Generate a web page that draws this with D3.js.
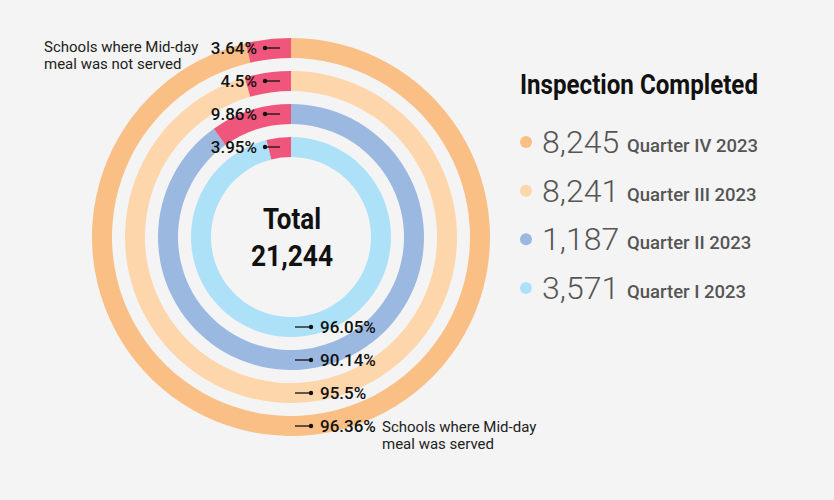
<!DOCTYPE html>
<html>
<head>
<meta charset="utf-8">
<script src="https://cdn.jsdelivr.net/npm/d3@7"></script>
<style>
  body { margin: 0; background: #f4f4f4; }
  svg { display: block; font-family: Roboto, "Noto Sans", sans-serif; }
</style>
</head>
<body>
<script>
// rings from outside to inside
var quarters = ["Quarter IV 2023", "Quarter III 2023", "Quarter II 2023", "Quarter I 2023"]
var inspections = [8245, 8241, 1187, 3571]
var servedPct = [96.36, 95.5, 90.14, 96.05]
var notServedPct = [3.64, 4.5, 9.86, 3.95]
var ringColors = ["#f9bf85", "#fdd6ac", "#9bb8e1", "#ade1f7"]
var notServedColor = "#f0567b"
var total = 21244

var width = 834, height = 500
var cx = 291, cy = 237

var svg = d3.select("body").append("svg")
  .attr("width", width)
  .attr("height", height)

svg.append("rect").attr("width", width).attr("height", height).attr("fill", "#f4f4f4")

var g = svg.append("g").attr("transform", "translate(" + cx + "," + cy + ")")

// radius of each ring centre
var radius = d3.scalePoint()
  .domain(quarters)
  .range([189, 90])

var thick = 20

var pie = d3.pie().sort(null).value(function(d) { return d })

quarters.forEach(function(q, i) {
  var r = radius(q)
  var arc = d3.arc().innerRadius(r - thick / 2).outerRadius(r + thick / 2)
  var slices = pie([servedPct[i], notServedPct[i]])
  g.selectAll(".arc" + i)
    .data(slices)
    .enter()
    .append("path")
    .attr("d", arc)
    .attr("fill", function(d, j) { return j == 0 ? ringColors[i] : notServedColor })

  // not served label (top)
  var top = g.append("g").attr("transform", "translate(0," + (-r) + ")")
  top.append("line").attr("x1", -26).attr("x2", -11).attr("y1", 0).attr("y2", 0)
    .attr("stroke", "#111").attr("stroke-width", 1.3)
  top.append("circle").attr("cx", -26).attr("cy", 0).attr("r", 2.2).attr("fill", "#111")
  top.append("text").attr("x", -34).attr("y", 6)
    .attr("text-anchor", "end")
    .attr("font-size", 17).attr("font-weight", 500).attr("fill", "#111")
    .text(notServedPct[i] + "%")

  // served label (bottom)
  var bot = g.append("g").attr("transform", "translate(0," + r + ")")
  bot.append("line").attr("x1", 4).attr("x2", 20).attr("y1", 0).attr("y2", 0)
    .attr("stroke", "#111").attr("stroke-width", 1.3)
  bot.append("circle").attr("cx", 20).attr("cy", 0).attr("r", 2.2).attr("fill", "#111")
  bot.append("text").attr("x", 29).attr("y", 6)
    .attr("font-size", 17).attr("font-weight", 500).attr("fill", "#111")
    .text(servedPct[i] + "%")
})

// centre total
g.append("text").attr("x", 1).attr("y", -8).attr("text-anchor", "middle")
  .attr("font-size", 29).attr("font-weight", 700).attr("fill", "#111")
  .attr("textLength", 58).attr("lengthAdjust", "spacingAndGlyphs")
  .text("Total")
g.append("text").attr("x", 1).attr("y", 29).attr("text-anchor", "middle")
  .attr("font-size", 29).attr("font-weight", 700).attr("fill", "#111")
  .attr("textLength", 82).attr("lengthAdjust", "spacingAndGlyphs")
  .text(d3.format(",")(total))

// annotations
var annLeft = svg.append("text").attr("font-size", 15).attr("fill", "#222")
annLeft.append("tspan").attr("x", 44).attr("y", 52).text("Schools where Mid-day")
annLeft.append("tspan").attr("x", 44).attr("y", 69).text("meal was not served")

var annRight = svg.append("text").attr("font-size", 15).attr("fill", "#222")
annRight.append("tspan").attr("x", 382).attr("y", 432).text("Schools where Mid-day")
annRight.append("tspan").attr("x", 382).attr("y", 449).text("meal was served")

// legend
svg.append("text").attr("x", 520).attr("y", 94)
  .attr("font-size", 27).attr("font-weight", 700).attr("fill", "#111")
  .attr("textLength", 238).attr("lengthAdjust", "spacingAndGlyphs")
  .text("Inspection Completed")

var rowY = d3.scalePoint().domain(quarters).range([153, 299])

var leg = svg.selectAll(".leg")
  .data(quarters)
  .enter()
  .append("g")
  .attr("transform", function(d) { return "translate(0," + rowY(d) + ")" })

leg.append("circle").attr("cx", 526).attr("cy", -11).attr("r", 6)
  .attr("fill", function(d, i) { return ringColors[i] })
leg.append("text").attr("x", 542).attr("y", 0)
  .attr("font-size", 32).attr("font-weight", 300).attr("fill", "#555")
  .text(function(d, i) { return d3.format(",")(inspections[i]) })
leg.append("text").attr("x", 627).attr("y", -1)
  .attr("font-size", 18.5).attr("font-weight", 500).attr("fill", "#555")
  .text(function(d) { return d })
</script>
</body>
</html>
